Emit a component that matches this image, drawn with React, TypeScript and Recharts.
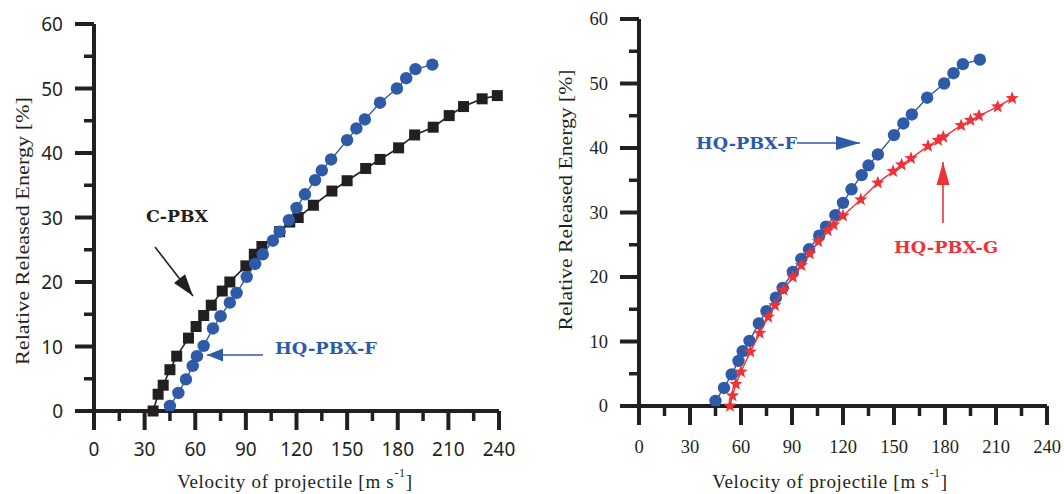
import React from 'react'
import { ScatterChart, Scatter, XAxis, YAxis } from 'recharts'

// tick values (minor ticks every 15 m/s and every 5 %)
const velocityTicks = [0, 15, 30, 45, 60, 75, 90, 105, 120, 135, 150, 165, 180, 195, 210, 225, 240]
const energyTicks = [0, 5, 10, 15, 20, 25, 30, 35, 40, 45, 50, 55, 60]

// C-PBX (left panel)
const cpbxVelocity = [35, 38, 41, 45, 49, 56, 60.5, 65, 69.5, 76, 80.5, 90, 95, 99.5, 110, 116, 121, 130, 141, 150, 161, 169.5, 180.5, 190, 201, 210.5, 219, 230, 239]
const cpbxEnergy = [0, 2.6, 4.0, 6.4, 8.5, 11.3, 13.1, 14.8, 16.4, 18.6, 20.0, 22.5, 24.3, 25.5, 27.8, 29.3, 30.0, 31.9, 34.1, 35.7, 37.6, 39.0, 40.8, 42.8, 44.0, 45.8, 47.2, 48.4, 48.9]

// HQ-PBX-F (both panels)
const hqfVelocity = [45, 50, 54.5, 58.5, 61, 65, 70.5, 75, 80.5, 84.5, 90.5, 95.5, 100, 106, 110, 115.5, 120, 125, 131, 135, 140.5, 150, 155.5, 160.5, 169.5, 179.5, 185, 190.5, 200.5]
const hqfEnergy = [0.8, 2.8, 4.9, 7.0, 8.5, 10.1, 12.8, 14.7, 16.8, 18.3, 20.8, 22.8, 24.3, 26.4, 27.8, 29.6, 31.5, 33.6, 35.8, 37.3, 39.0, 42.0, 43.8, 45.2, 47.8, 50.0, 51.6, 53.0, 53.7]

// HQ-PBX-G (right panel)
const hqgVelocity = [53.5, 55, 57, 60, 65.5, 71, 76, 80, 85, 90.5, 95.5, 100.5, 105.5, 111, 114.5, 120, 130.5, 140.5, 149.5, 154.5, 160, 170, 176, 179, 189.5, 195, 200, 211, 219.5]
const hqgEnergy = [0, 1.6, 3.4, 5.3, 8.4, 11.3, 13.8, 15.6, 18.0, 20.0, 21.8, 23.6, 25.5, 27.2, 28.1, 29.5, 32.0, 34.6, 36.4, 37.4, 38.4, 40.3, 41.2, 41.7, 43.5, 44.3, 45.0, 46.4, 47.7]

const INK = '#231f20'
const BLUE = '#2e5aa8'
const RED = '#ee3338'

const zip = (vs: number[], es: number[]) => vs.map((v, i) => ({ v, e: es[i] }))
const cpbx = zip(cpbxVelocity, cpbxEnergy)
const hqf = zip(hqfVelocity, hqfEnergy)
const hqg = zip(hqgVelocity, hqgEnergy)

const SANS = '"Noto Sans", sans-serif'
const SERIF = '"Liberation Serif", serif'
const BOLD_SERIF = '"DejaVu Serif", serif'

function Square(p: any) {
  return <rect x={p.cx - 5.5} y={p.cy - 5.5} width={11} height={11} fill={INK} />
}

function Dot(p: any) {
  return <circle cx={p.cx} cy={p.cy} r={6.2} fill={BLUE} />
}

function Star(p: any) {
  const R = 7
  const r = 3
  const pts: string[] = []
  for (let i = 0; i < 10; i++) {
    const a = -Math.PI / 2 + (i * Math.PI) / 5
    const rad = i % 2 === 0 ? R : r
    pts.push(`${p.cx + rad * Math.cos(a)},${p.cy + rad * Math.sin(a)}`)
  }
  return <polygon points={pts.join(' ')} fill={RED} />
}

function makeXTick(font: string, size: number, dy: number) {
  return (p: any) => {
    const major = p.payload.value % 30 === 0
    return (
      <g>
        <line x1={p.x} x2={p.x} y1={p.y} y2={p.y + (major ? 19 : 10)} stroke={INK} strokeWidth={major ? 4 : 3.5} />
        {major && (
          <text x={p.x} y={p.y + dy} textAnchor="middle" dominantBaseline="central" fontFamily={font} fontSize={size} fill={INK}>
            {p.payload.value}
          </text>
        )}
      </g>
    )
  }
}

function makeYTick(font: string, size: number, dx: number) {
  return (p: any) => {
    const major = p.payload.value % 10 === 0
    return (
      <g>
        <line x1={p.x - (major ? 19 : 10)} x2={p.x} y1={p.y} y2={p.y} stroke={INK} strokeWidth={major ? 4 : 3.5} />
        {major && (
          <text x={p.x - dx} y={p.y} textAnchor="end" dominantBaseline="central" fontFamily={font} fontSize={size} fill={INK}>
            {p.payload.value}
          </text>
        )}
      </g>
    )
  }
}

function Panel({ width, left, top, right, bottom, tickFont, tickSize, xDy, children }: any) {
  return (
    <ScatterChart width={width} height={494} margin={{ top, right, left: 0, bottom: 0 }}>
      <XAxis
        type="number"
        dataKey="v"
        domain={[0, 240]}
        ticks={velocityTicks}
        interval={0}
        height={bottom}
        tickSize={0}
        tickMargin={0}
        tickLine={false}
        axisLine={{ stroke: INK, strokeWidth: 4 }}
        tick={makeXTick(tickFont, tickSize, xDy)}
      />
      <YAxis
        type="number"
        dataKey="e"
        domain={[0, 60]}
        ticks={energyTicks}
        interval={0}
        width={left}
        tickSize={0}
        tickMargin={0}
        tickLine={false}
        axisLine={{ stroke: INK, strokeWidth: 4 }}
        tick={makeYTick(tickFont, tickSize, 31)}
      />
      {children}
    </ScatterChart>
  )
}

function arrowHead(x1: number, y1: number, tx: number, ty: number, len: number, half: number) {
  const d = Math.hypot(tx - x1, ty - y1)
  const ux = (tx - x1) / d
  const uy = (ty - y1) / d
  const bx = tx - ux * len
  const by = ty - uy * len
  return `${tx},${ty} ${bx - uy * half},${by + ux * half} ${bx + uy * half},${by - ux * half}`
}

function Arrow({ x1, y1, x2, y2, color, len, half }: any) {
  return (
    <g>
      <line x1={x1} y1={y1} x2={x2} y2={y2} stroke={color} strokeWidth={1.6} />
      <polygon points={arrowHead(x1, y1, x2, y2, len, half)} fill={color} />
    </g>
  )
}

function Tag({ x, y, w, color, children }: any) {
  return (
    <text x={x} y={y} dominantBaseline="central" fontFamily={BOLD_SERIF} fontWeight="bold" fontSize={17} fill={color} textLength={w} lengthAdjust="spacingAndGlyphs">
      {children}
    </text>
  )
}

function XTitle({ cx }: { cx: number }) {
  return (
    <text x={cx} y={481} textAnchor="middle" dominantBaseline="central" fontFamily={SERIF} fontSize={19} letterSpacing={0.7} fill={INK}>
      Velocity of projectile [m s
      <tspan fontSize={12} dy={-8}>-1</tspan>
      <tspan dy={8}>]</tspan>
    </text>
  )
}

export default function App() {
  return (
    <div style={{ position: 'absolute', left: 0, top: 0, width: 1064, height: 494, background: '#fff' }}>
      <div style={{ position: 'absolute', left: 0, top: 0 }}>
        <Panel width={530} left={94} top={24} right={31} bottom={83} tickFont={SANS} tickSize={19} xDy={38}>
          <Scatter data={cpbx} line={{ stroke: INK, strokeWidth: 1.6 }} lineType="joint" shape={Square} isAnimationActive={false} />
          <Scatter data={hqf} line={{ stroke: BLUE, strokeWidth: 1.4 }} lineType="joint" shape={Dot} isAnimationActive={false} />
        </Panel>
      </div>
      <div style={{ position: 'absolute', left: 540, top: 0 }}>
        <Panel width={524} left={99} top={19} right={17} bottom={88} tickFont={SERIF} tickSize={18.5} xDy={41}>
          <Scatter data={hqf} line={{ stroke: BLUE, strokeWidth: 1.4 }} lineType="joint" shape={Dot} isAnimationActive={false} />
          <Scatter data={hqg} line={{ stroke: RED, strokeWidth: 1.4 }} lineType="joint" shape={Star} isAnimationActive={false} />
        </Panel>
      </div>
      <svg width={1064} height={494} style={{ position: 'absolute', left: 0, top: 0, pointerEvents: 'none' }}>
        {/* axis titles */}
        <text x={22} y={231} transform="rotate(-90 22 231)" textAnchor="middle" dominantBaseline="central" fontFamily={SERIF} fontSize={19} fill={INK} textLength={268} lengthAdjust="spacingAndGlyphs">
          Relative Released Energy  [%]
        </text>
        <text x={565} y={200} transform="rotate(-90 565 200)" textAnchor="middle" dominantBaseline="central" fontFamily={SERIF} fontSize={19} fill={INK} textLength={261} lengthAdjust="spacingAndGlyphs">
          Relative Released Energy [%]
        </text>
        <XTitle cx={295} />
        <XTitle cx={830} />

        {/* left annotations */}
        <Tag x={146} y={216} w={62} color={INK}>C-PBX</Tag>
        <Arrow x1={155} y1={247} x2={193} y2={296} color={INK} len={22} half={7} />
        <Tag x={275} y={348} w={102} color={BLUE}>HQ-PBX-F</Tag>
        <Arrow x1={263} y1={355} x2={207} y2={355} color={BLUE} len={16} half={6.5} />

        {/* right annotations */}
        <Tag x={696} y={143} w={101} color={BLUE}>HQ-PBX-F</Tag>
        <Arrow x1={797} y1={143} x2={860} y2={143} color={BLUE} len={24} half={7} />
        <Tag x={894} y={247} w={104} color={RED}>HQ-PBX-G</Tag>
        <Arrow x1={943} y1={223} x2={943} y2={162} color={RED} len={23} half={6.5} />
      </svg>
    </div>
  )
}
